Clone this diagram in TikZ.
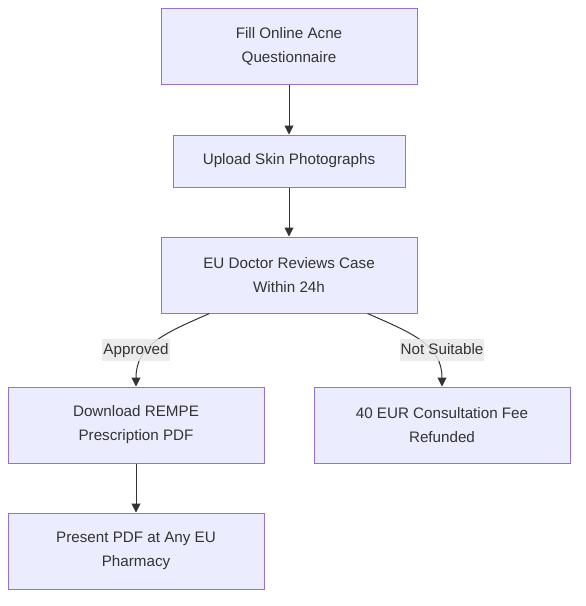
\documentclass[tikz,border=0pt]{standalone}
\usepackage{fontspec}
\setmainfont{Liberation Sans}
\usetikzlibrary{arrows.meta}
\definecolor{nodefill}{HTML}{ECECFF}
\definecolor{nodeline}{HTML}{9370DB}
\definecolor{txt}{HTML}{333333}
\definecolor{lblbg}{HTML}{E8E8E8}
\begin{document}
\begin{tikzpicture}[x=1pt,y=-1pt,
  box/.style={draw=nodeline,fill=nodefill,line width=1pt,minimum width=256pt,minimum height=76pt,
    align=center,text=txt,font=\fontsize{15.2}{24}\selectfont,inner sep=0pt},
  conn/.style={draw=txt,line width=1pt,-{Triangle[length=9pt,width=9pt]}},
  lbl/.style={fill=lblbg,fill opacity=0.85,text opacity=1,text=txt,font=\fontsize{15.2}{18}\selectfont,
    inner xsep=1pt,inner ysep=4pt,text height=11pt,text depth=3pt}]
\useasboundingbox (0,0) rectangle (586,606);
\node[box] (n1) at (289,46) {Fill Online Acne\\Questionnaire};
\node[box,minimum width=232pt,minimum height=52pt] (n2) at (289,161) {Upload Skin Photographs};
\node[box] (n3) at (289,275) {EU Doctor Reviews Case\\Within 24h};
\node[box] (n4) at (136,425) {Download REMPE\\Prescription PDF};
\node[box] (n5) at (442,425) {40 EUR Consultation Fee\\Refunded};
\node[box] (n6) at (136,551) {Present PDF at Any EU\\Pharmacy};
\draw[conn] (n1) -- (n2);
\draw[conn] (n2) -- (n3);
\draw[conn] (n4) -- (n6);
\coordinate (a1) at ([xshift=49pt]n3.south west);
\coordinate (b1) at ([xshift=-50pt]n3.south east);
\draw[conn] (a1) .. controls (165,333) and (136,345) .. (n4.north);
\draw[conn] (b1) .. controls (412,333) and (442,345) .. (n5.north);
\node[lbl] (l1) at (136,350) {Approved};
\node[lbl] (l2) at (442,350) {Not Suitable};
\end{tikzpicture}
\end{document}
